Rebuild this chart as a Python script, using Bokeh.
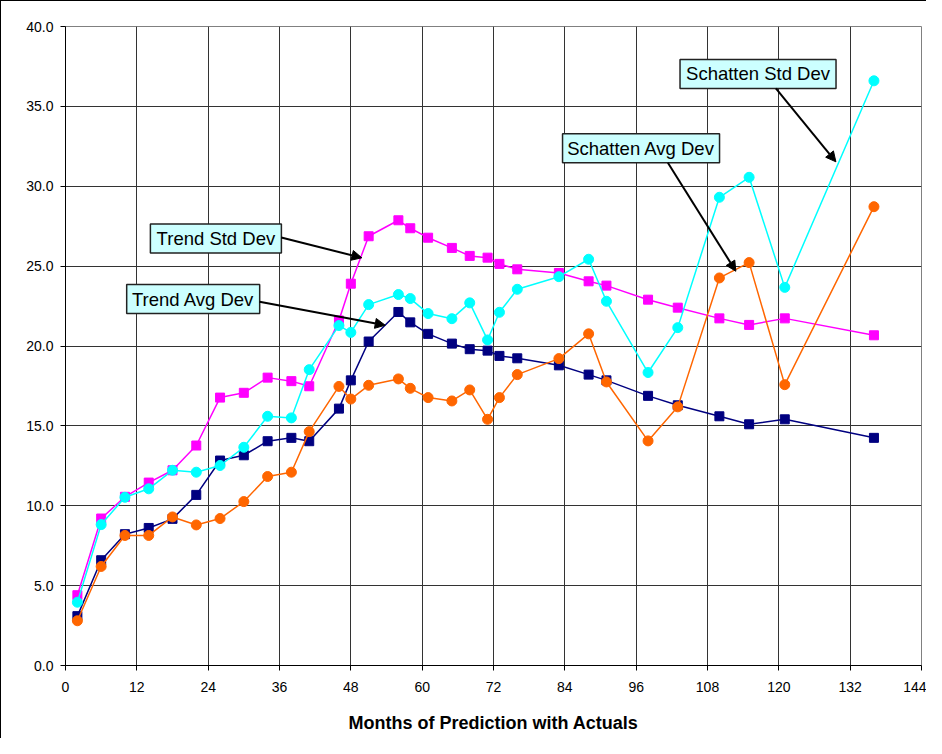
from bokeh.plotting import figure
from bokeh.models import Range1d, FixedTicker, NumeralTickFormatter, Arrow, NormalHead, ColumnDataSource
from bokeh.core.properties import value
from bokeh.embed import file_html
from bokeh.resources import INLINE

# ---- data ----
months = [2, 6, 10, 14, 18, 22, 26, 30, 34, 38, 41, 46, 48, 51, 56, 58, 61, 65,
          68, 71, 73, 76, 83, 88, 91, 98, 103, 110, 115, 121, 136]

trend_std = [4.4, 9.2, 10.56, 11.45, 12.22, 13.77, 16.77, 17.07, 18.02, 17.8, 17.48,
             21.6, 23.9, 26.87, 27.87, 27.37, 26.78, 26.14, 25.64, 25.53, 25.14, 24.8,
             24.57, 24.05, 23.78, 22.9, 22.4, 21.73, 21.32, 21.73, 20.67]

trend_avg = [3.09, 6.59, 8.22, 8.61, 9.18, 10.68, 12.83, 13.16, 14.04, 14.25, 14.04,
             16.08, 17.85, 20.28, 22.13, 21.48, 20.76, 20.15, 19.8, 19.71, 19.38, 19.23,
             18.79, 18.21, 17.85, 16.88, 16.29, 15.6, 15.1, 15.41, 14.25]

schatten_std = [3.96, 8.82, 10.53, 11.06, 12.22, 12.1, 12.52, 13.66, 15.6, 15.5, 18.52,
                21.28, 20.85, 22.59, 23.22, 22.97, 22.03, 21.71, 22.7, 20.38, 22.11, 23.55,
                24.34, 25.43, 22.8, 18.34, 21.15, 29.31, 30.56, 23.67, 36.6]

schatten_avg = [2.8, 6.2, 8.14, 8.14, 9.3, 8.8, 9.2, 10.26, 11.83, 12.1, 14.64,
                17.47, 16.68, 17.54, 17.94, 17.35, 16.77, 16.56, 17.25, 15.41, 16.77, 18.21,
                19.21, 20.76, 17.75, 14.06, 16.19, 24.26, 25.22, 17.58, 28.72]

x_ticks = [0, 12, 24, 36, 48, 60, 72, 84, 96, 108, 120, 132, 144]
y_ticks = [0, 5, 10, 15, 20, 25, 30, 35, 40]
x_title = "Months of Prediction with Actuals"

series_names = ["Trend Std Dev", "Trend Avg Dev", "Schatten Avg Dev", "Schatten Std Dev"]

# ---- annotation callouts (label, box center, arrow start, arrow end) ----
callouts = [
    dict(text="Trend Std Dev", cx=25.3, cy=26.73, w=131, sx=36.3, sy=26.79, ex=49.85, ey=25.52),
    dict(text="Trend Avg Dev", cx=21.48, cy=22.94, w=133, sx=32.64, sy=22.77, ex=53.78, ey=21.3),
    dict(text="Schatten Std Dev", cx=116.5, cy=37.03, w=156, sx=119.5, sy=36.12, ex=129.6, ey=31.53),
    dict(text="Schatten Avg Dev", cx=96.82, cy=32.38, w=157, sx=101.33, sy=31.47, ex=112.77, ey=24.68),
]

FONT = "Liberation Sans"

p = figure(width=926, height=738, output_backend="svg", toolbar_location=None,
           x_range=Range1d(0, 144), y_range=Range1d(0, 40),
           min_border_left=64, min_border_right=6, min_border_top=25, min_border_bottom=74)
p.styles = {"border-left": "1px solid black", "border-top": "1px solid black"}

p.outline_line_color = "#808080"
p.outline_line_width = 1

for ax in (p.xaxis[0], p.yaxis[0]):
    ax.axis_line_color = "black"
    ax.major_tick_line_color = "black"
    ax.major_tick_in = 0
    ax.major_tick_out = 5
    ax.minor_tick_line_color = None
    ax.major_label_text_font = FONT
    ax.major_label_text_font_size = "14px"
    ax.major_label_text_color = "black"

p.xaxis.ticker = FixedTicker(ticks=x_ticks)
p.yaxis.ticker = FixedTicker(ticks=y_ticks)
p.yaxis.formatter = NumeralTickFormatter(format="0.0")
p.xaxis.major_label_standoff = 11
p.yaxis.major_label_standoff = 7

p.xaxis.axis_label = x_title
p.xaxis.axis_label_text_font = FONT
p.xaxis.axis_label_text_font_size = "18px"
p.xaxis.axis_label_text_font_style = "bold"
p.xaxis.axis_label_text_color = "black"
p.xaxis.axis_label_standoff = 18

p.xgrid.ticker = FixedTicker(ticks=x_ticks)
p.ygrid.ticker = FixedTicker(ticks=y_ticks)
for g in (p.xgrid[0], p.ygrid[0]):
    g.grid_line_color = "#333333"
    g.grid_line_width = 1

src = ColumnDataSource(dict(m=months, ts=trend_std, ta=trend_avg, ss=schatten_std, sa=schatten_avg))

# Trend Std Dev (magenta squares)
p.line("m", "ts", source=src, line_color="#FF00FF", line_width=1.5)
p.scatter("m", "ts", source=src, marker="square", size=9, fill_color="#FF00FF", line_color="#FF00FF")
# Trend Avg Dev (navy squares)
p.line("m", "ta", source=src, line_color="#000080", line_width=1.5)
p.scatter("m", "ta", source=src, marker="square", size=9, fill_color="#000080", line_color="#000080")
# Schatten Avg Dev (orange circles)
p.line("m", "sa", source=src, line_color="#FF6600", line_width=1.5)
p.scatter("m", "sa", source=src, marker="circle", size=10, fill_color="#FF6600", line_color="#FF6600")
# Schatten Std Dev (cyan circles)
p.line("m", "ss", source=src, line_color="#00FFFF", line_width=1.5)
p.scatter("m", "ss", source=src, marker="circle", size=10, fill_color="#00FFFF", line_color="#00FFFF")

# callouts
for c in callouts:
    p.add_layout(Arrow(x_start=c["sx"], y_start=c["sy"], x_end=c["ex"], y_end=c["ey"],
                       line_color="black", line_width=2,
                       end=NormalHead(size=10, fill_color="black", line_color="black")))
cds = ColumnDataSource(dict(x=[c["cx"] for c in callouts], y=[c["cy"] for c in callouts],
                            w=[c["w"] for c in callouts], t=[c["text"] for c in callouts]))
p.rect("x", "y", width="w", height=29, width_units="screen", height_units="screen",
       source=cds, fill_color="#CCFFFF", line_color="#222222", line_width=1.5)
p.text("x", "y", text="t", source=cds, text_align="center", text_baseline="middle",
       text_font=value(FONT), text_font_size=value("18.5px"), text_color="black")

open("out.html", "w").write(file_html(p, INLINE))
